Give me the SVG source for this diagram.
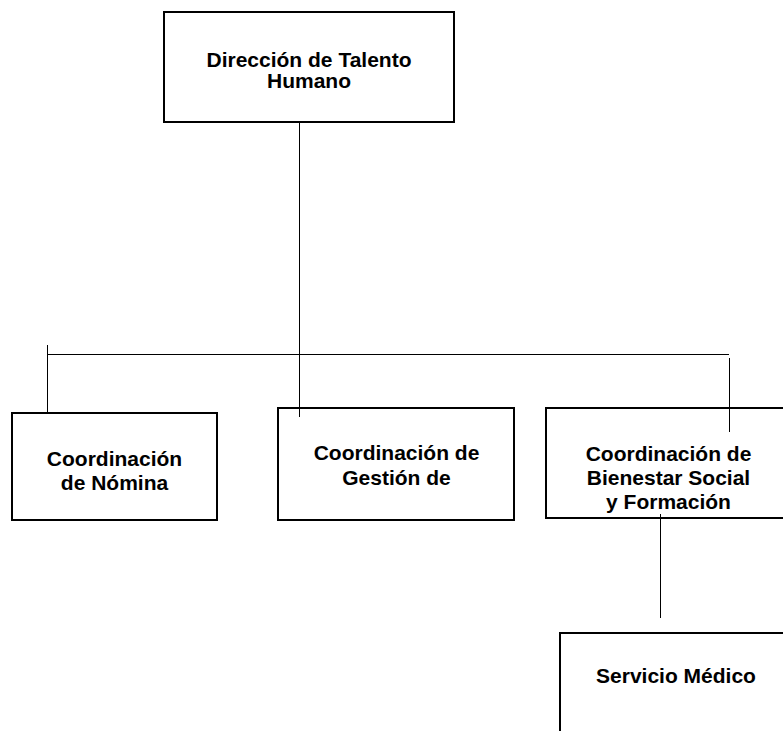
<svg xmlns="http://www.w3.org/2000/svg" width="783" height="731" viewBox="0 0 783 731">
<style>
.box{fill:#fff;stroke:#000;stroke-width:2}
.conn{stroke:#000;stroke-width:1;fill:none}
text{font-family:"Liberation Sans",Arial,sans-serif;font-weight:bold;font-size:21px;fill:#000;text-anchor:middle}
</style>
<rect width="783" height="731" fill="#fff"/>
<g id="n-direccion">
<rect class="box" x="164" y="12" width="290" height="110"/>
<text x="309" y="67">Dirección de Talento</text>
<text x="309" y="88">Humano</text>
</g>
<g id="n-nomina">
<rect class="box" x="12" y="413" width="205" height="107"/>
<text x="114.5" y="466">Coordinación</text>
<text x="114.5" y="490">de Nómina</text>
</g>
<g id="n-gestion">
<rect class="box" x="278" y="408" width="236" height="112"/>
<text x="396.5" y="460">Coordinación de</text>
<text x="396.5" y="485">Gestión de</text>
</g>
<g id="n-bienestar">
<rect class="box" x="546" y="408" width="250" height="110"/>
<text x="668.5" y="461">Coordinación de</text>
<text x="668.5" y="485">Bienestar Social</text>
<text x="668.5" y="509">y Formación</text>
</g>
<g id="n-servicio">
<rect class="box" x="560" y="633" width="250" height="120"/>
<text x="676" y="683">Servicio Médico</text>
</g>
<g id="connectors">
<line class="conn" x1="299.5" y1="122" x2="299.5" y2="417"/>
<line class="conn" x1="47" y1="354.5" x2="729" y2="354.5"/>
<line class="conn" x1="47.5" y1="345" x2="47.5" y2="413"/>
<line class="conn" x1="729.5" y1="358" x2="729.5" y2="432"/>
<line class="conn" x1="660.5" y1="514" x2="660.5" y2="618"/>
</g>
</svg>
